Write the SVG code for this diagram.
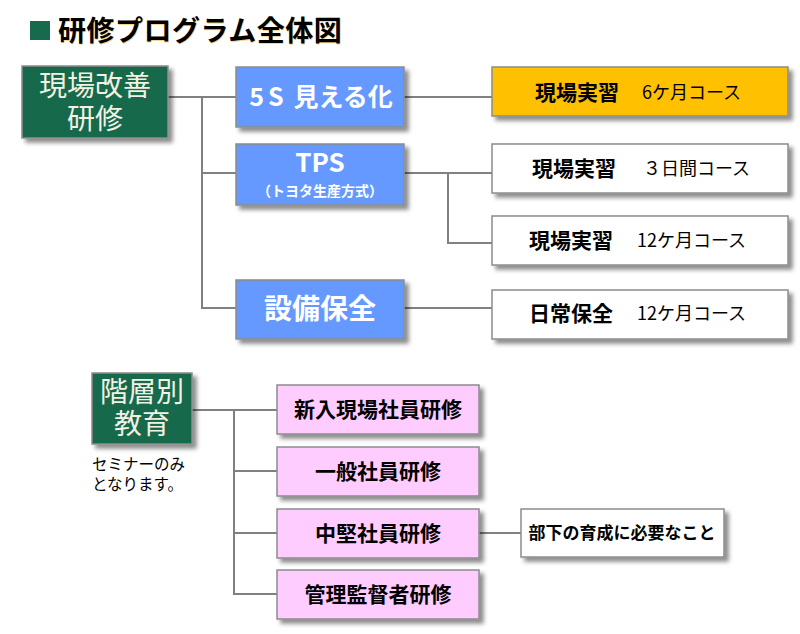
<svg xmlns="http://www.w3.org/2000/svg" width="800" height="634" viewBox="0 0 800 634">
<defs>
<filter id="sh" x="-10%" y="-10%" width="130%" height="140%">
<feDropShadow dx="4" dy="4" stdDeviation="2" flood-color="#000" flood-opacity="0.45"/>
</filter>
</defs>
<style>
text{font-family:"Noto Sans CJK JP","Noto Sans",sans-serif;}
.box{stroke:#8c8c8c;stroke-width:1.5;filter:url(#sh);}
.green{fill:#186A4C;}
.blue{fill:#6699FF;}
.orange{fill:#FFC000;}
.white{fill:#FFFFFF;}
.pink{fill:#FFCCFF;}
text.gt{fill:#F2F2E4;font-size:28px;text-anchor:middle;font-family:"Liberation Sans","Noto Sans CJK JP",sans-serif;}
.bt{fill:#FFFFFF;font-weight:bold;text-anchor:middle;}
.k{fill:#000;font-weight:bold;font-size:21px;}
.c{fill:#000;font-size:18px;}
.pt{fill:#000;font-weight:bold;font-size:21px;text-anchor:middle;}
.conn{fill:none;stroke:#808080;stroke-width:2;}
</style>
<rect width="800" height="634" fill="#FFFFFF"/>
<g id="title">
<rect x="30" y="21" width="20" height="19" fill="#186A4C"/>
<text x="58.8" y="41.8" font-size="28" font-weight="bold" fill="#F0B030" fill-opacity="0.55" letter-spacing="0.5">研修プログラム全体図</text>
<text x="58" y="41" font-size="28" font-weight="bold" fill="#000" letter-spacing="0.5">研修プログラム全体図</text>
</g>
<g id="connectors">
<path class="conn" d="M168 97H236M202 97V308H236M202 173H236"/>
<path class="conn" d="M404 97H492"/>
<path class="conn" d="M404 173H492M448 173V243H492"/>
<path class="conn" d="M404 308H492"/>
<path class="conn" d="M192 410H277M234 410V594H277M234 471H277M234 533H277"/>
<path class="conn" d="M479 533H521"/>
</g>
<g id="genba">
<rect class="box green" x="22" y="66" width="146" height="72"/>
<text class="gt" x="95" y="96">現場改善</text>
<text class="gt" x="95" y="129">研修</text>
</g>
<g id="n5s">
<rect class="box blue" x="236" y="67" width="168" height="60"/>
<text class="bt" x="321" y="106" font-size="25"><tspan letter-spacing="4">5S</tspan> 見える化</text>
</g>
<g id="tps">
<rect class="box blue" x="236" y="144" width="168" height="61"/>
<text class="bt" x="320" y="172" font-size="26">TPS</text>
<text class="bt" x="320" y="196" font-size="14">（トヨタ生産方式）</text>
</g>
<g id="setsubi">
<rect class="box blue" x="236" y="280" width="168" height="59"/>
<text class="bt" x="320" y="319" font-size="28">設備保全</text>
</g>
<g id="c6m">
<rect class="box orange" x="492" y="67" width="296" height="49"/>
<text class="k" x="535" y="100">現場実習</text>
<text class="c" x="642" y="99">6ケ月コース</text>
</g>
<g id="c3d">
<rect class="box white" x="492" y="144" width="296" height="49"/>
<text class="k" x="532" y="176">現場実習</text>
<text class="c" x="643" y="175" font-size="17">３日間コース</text>
</g>
<g id="c12m">
<rect class="box white" x="492" y="216" width="296" height="49"/>
<text class="k" x="529" y="248">現場実習</text>
<text class="c" x="637" y="247">12ケ月コース</text>
</g>
<g id="nichijo">
<rect class="box white" x="492" y="290" width="296" height="49"/>
<text class="k" x="529" y="321">日常保全</text>
<text class="c" x="637" y="320">12ケ月コース</text>
</g>
<g id="kaiso">
<rect class="box green" x="92" y="373" width="100" height="71"/>
<text class="gt" x="142" y="402">階層別</text>
<text class="gt" x="142" y="434">教育</text>
</g>
<g id="note">
<text x="92" y="470" font-size="15.5" fill="#000">セミナーのみ<tspan x="92" dy="20">となります。</tspan></text>
</g>
<g id="shinnyu">
<rect class="box pink" x="277" y="385" width="202" height="49"/>
<text class="pt" x="378" y="417">新入現場社員研修</text>
</g>
<g id="ippan">
<rect class="box pink" x="277" y="447" width="202" height="49"/>
<text class="pt" x="378" y="479">一般社員研修</text>
</g>
<g id="chuken">
<rect class="box pink" x="277" y="509" width="202" height="49"/>
<text class="pt" x="378" y="541">中堅社員研修</text>
</g>
<g id="kanri">
<rect class="box pink" x="277" y="570" width="202" height="49"/>
<text class="pt" x="378" y="602">管理監督者研修</text>
</g>
<g id="buka">
<rect class="box white" x="521" y="509" width="203" height="48"/>
<text x="622" y="539" font-size="17" font-weight="bold" fill="#000" text-anchor="middle">部下の育成に必要なこと</text>
</g>
</svg>
